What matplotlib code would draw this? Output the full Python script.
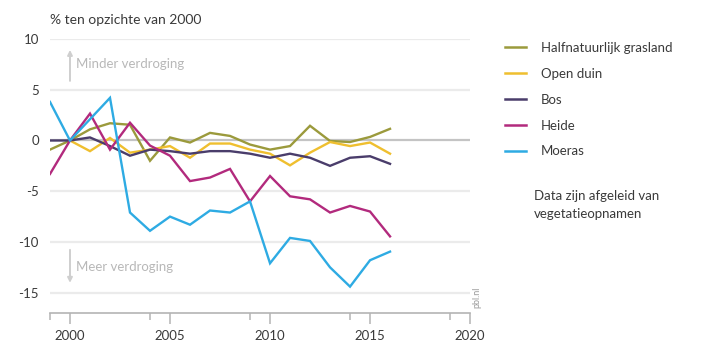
import numpy as np
import matplotlib
matplotlib.use("Agg")
import matplotlib.pyplot as plt
from matplotlib.lines import Line2D

plt.rcParams["font.family"] = ["Lato", "DejaVu Sans"]

INK = "#3a3a3a"
GREY = "#b4b4b4"
GRID = "#ebebeb"

# ---- data: % change relative to 2000 ----
years = list(range(1999, 2017))
grasland = [-0.9, 0.0, 1.1, 1.7, 1.55, -2.0, 0.3, -0.2, 0.75, 0.45,
            -0.4, -0.9, -0.55, 1.45, -0.05, -0.15, 0.35, 1.15]
open_duin = [np.nan, 0.0, -1.05, 0.25, -1.2, -0.9, -0.55, -1.7, -0.3, -0.3,
             -0.9, -1.3, -2.45, -1.2, -0.15, -0.55, -0.2, -1.3]
bos = [0.0, 0.0, 0.3, -0.55, -1.5, -0.9, -1.05, -1.3, -1.05, -1.05,
       -1.3, -1.7, -1.3, -1.7, -2.5, -1.7, -1.55, -2.3]
heide = [-3.3, 0.0, 2.65, -0.9, 1.75, -0.5, -1.5, -4.0, -3.65, -2.8,
         -6.0, -3.5, -5.5, -5.8, -7.1, -6.45, -7.0, -9.45]
moeras = [3.8, 0.0, 2.1, 4.2, -7.1, -8.9, -7.5, -8.3, -6.9, -7.1,
          -6.0, -12.1, -9.6, -9.9, -12.5, -14.4, -11.8, -10.95]

series = [
    ("Halfnatuurlijk grasland", grasland, "#9b9a3c"),
    ("Open duin", open_duin, "#efbf2f"),
    ("Bos", bos, "#4a3d6b"),
    ("Heide", heide, "#b22a7d"),
    ("Moeras", moeras, "#2eabe3"),
]

yticks = [10, 5, 0, -5, -10, -15]
xticks = [2000, 2005, 2010, 2015, 2020]
xminor = [1999, 2004, 2009, 2014, 2019]

# ---- figure ----
fig = plt.figure(figsize=(7.06, 3.44), dpi=100)
ax = fig.add_axes([0.0708, 0.0901, 0.595, 0.7965])

for y in yticks:
    if y == 0:
        ax.axhline(0, color="#c4c4c4", lw=1.6, zorder=1)
    else:
        ax.axhline(y, color=GRID, lw=1.6, zorder=1)

for name, vals, col in series:
    ax.plot(years, vals, color=col, lw=1.7, zorder=3, solid_joinstyle="miter")

ax.set_xlim(1999, 2020)
ax.set_ylim(-17, 10)
for s in ("top", "right", "left"):
    ax.spines[s].set_visible(False)
ax.spines["bottom"].set_color(GREY)
ax.spines["bottom"].set_linewidth(1.2)

ax.set_yticks(yticks)
ax.set_yticklabels([str(v) for v in yticks], fontsize=9.5, color=INK)
ax.tick_params(axis="y", length=0, pad=8)
ax.set_xticks(xticks)
ax.set_xticklabels([str(v) for v in xticks], fontsize=9.5, color=INK)
ax.set_xticks(xminor, minor=True)
ax.tick_params(axis="x", which="major", length=8, width=1.1, color=GREY, pad=4)
ax.tick_params(axis="x", which="minor", length=5, width=1.1, color=GREY)

# unit label above the axes
fig.text(50 / 706, 1 - 20 / 344, "% ten opzichte van 2000", fontsize=10,
         color=INK, ha="left", va="center")

# direction hints
ax.annotate("", xy=(2000, 9.2), xytext=(2000, 5.6),
            arrowprops=dict(arrowstyle="-|>", color="#cfcfcf", lw=1.4,
                            mutation_scale=7))
ax.text(2000.3, 7.5, "Minder verdroging", fontsize=9.5, color="#b8b8b8",
        ha="left", va="center")
ax.annotate("", xy=(2000, -14.3), xytext=(2000, -10.5),
            arrowprops=dict(arrowstyle="-|>", color="#cfcfcf", lw=1.4,
                            mutation_scale=7))
ax.text(2000.3, -12.5, "Meer verdroging", fontsize=9.5, color="#b8b8b8",
        ha="left", va="center")

ax.text(1.005, 0.02, "pbl.nl", transform=ax.transAxes, rotation=90,
        fontsize=6.5, color="#9a9a9a", ha="left", va="bottom")

# legend
handles = [Line2D([0], [0], color=c, lw=1.8) for _, _, c in series]
labels = [n for n, _, _ in series]
leg = fig.legend(handles, labels, loc="upper left",
                 bbox_to_anchor=(505 / 706, 1 - 42 / 344), frameon=False,
                 fontsize=9.5, handlelength=1.6, handletextpad=1.1,
                 labelspacing=1.05, borderaxespad=0, borderpad=0)
for t in leg.get_texts():
    t.set_color(INK)

fig.text(534 / 706, 1 - 205 / 344, "Data zijn afgeleid van\nvegetatieopnamen",
         fontsize=9.5, color=INK, ha="left", va="center", linespacing=1.55)

fig.savefig("out.png", dpi=100, facecolor="white")
